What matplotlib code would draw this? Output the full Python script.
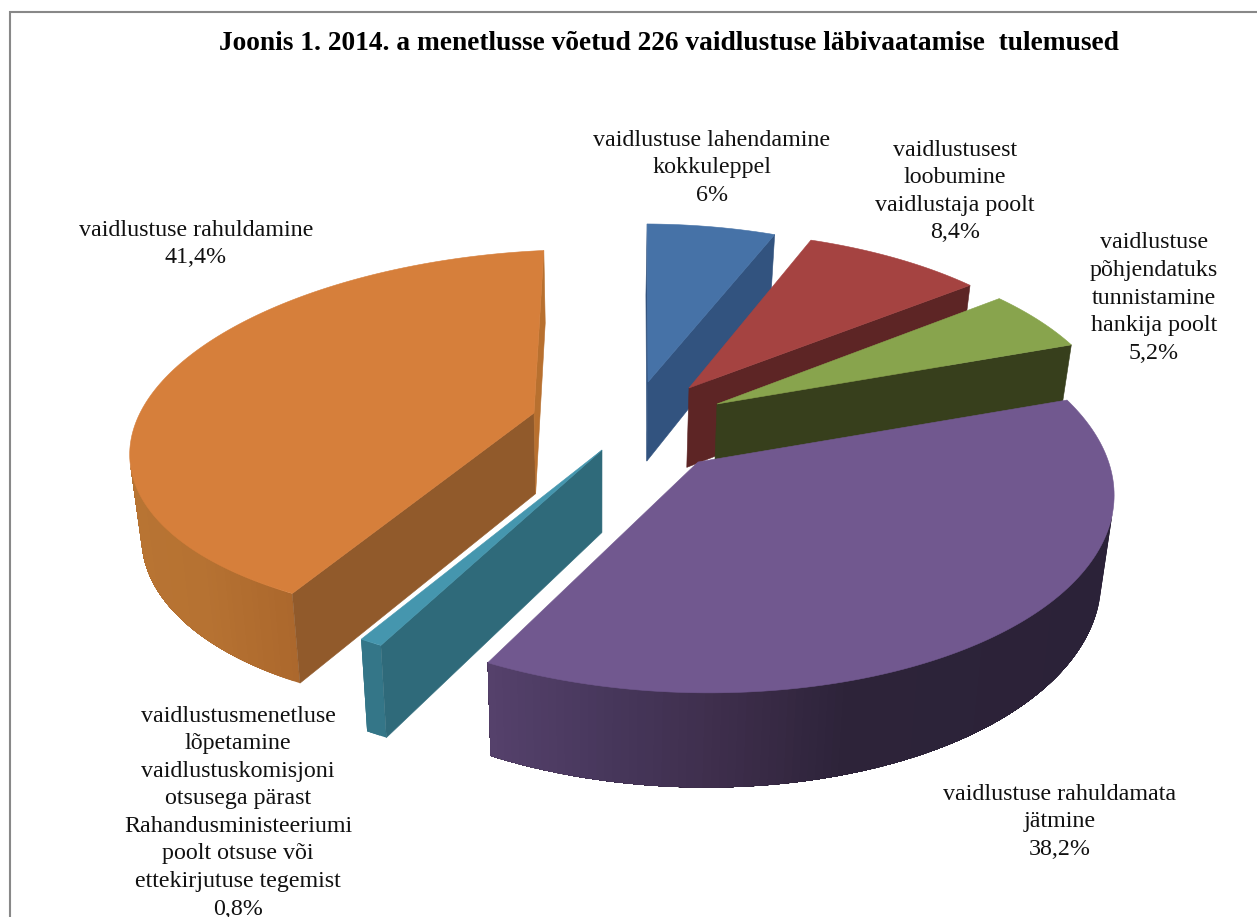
import numpy as np
import matplotlib
matplotlib.use("Agg")
import matplotlib.pyplot as plt
from matplotlib.colors import to_rgb

# ---- data (clockwise from twelve o'clock) ----
categories = [
    "vaidlustuse lahendamine\nkokkuleppel",
    "vaidlustusest\nloobumine\nvaidlustaja poolt",
    "vaidlustuse\npõhjendatuks\ntunnistamine\nhankija poolt",
    "vaidlustuse rahuldamata\njätmine",
    "vaidlustusmenetluse\nlõpetamine\nvaidlustuskomisjoni\notsusega pärast\nRahandusministeeriumi\npoolt otsuse või\nettekirjutuse tegemist",
    "vaidlustuse rahuldamine",
]
values = [6.0, 8.4, 5.2, 38.2, 0.8, 41.4]
value_labels = ["6%", "8,4%", "5,2%", "38,2%", "0,8%", "41,4%"]
title = "Joonis 1. 2014. a menetlusse võetud 226 vaidlustuse läbivaatamise  tulemused"

# ---- styles and layout ----
top_colors = ["#4672A7", "#A54341", "#88A44D", "#71588F", "#4596AE", "#D67F3B"]
side_colors = ["#32537F", "#5D2525", "#373F1C", "#2C2238", "#2F6A7A", "#915A2B"]
end_colors = ["#32537F", "#5D2525", "#373F1C", "#2C2238", "#2F6A7A", "#B8702F"]
wall_stops = [
    [(0, "#32537F"), (1300, "#32537F")],
    [(0, "#5D2525"), (1300, "#5D2525")],
    [(0, "#373F1C"), (1300, "#373F1C")],
    [(488, "#55416B"), (620, "#46365A"), (720, "#3E2E4C"), (850, "#2D2339"), (1120, "#2B2238")],
    [(0, "#347688"), (1300, "#347688")],
    [(130, "#B87433"), (200, "#B67232"), (298, "#AB672C")],
]
# apex x, apex y, a, b, c, d, k, m : projection of each exploded slice
proj = [
    (648, 382, 385, -1, 2, 177, 0.12, 0.0),
    (689, 388, 391, -9, -2, 176, 0.12, 0.0),
    (717, 404, 395, -12, -1, 182, 0.12, 0.0),
    (698, 462, 417, -12, 2, 202, 0.125, 0.014),
    (602, 450, 420, 0, 0, 198, 0.12, 0.0),
    (534, 413, 408, 11, -15, 182, 0.12, -0.02),
]
draw_order = [0, 1, 2, 5, 4, 3]
label_pos = [(712, 140), (955, 150), (1154, 243), (1060, 794), (238, 716), (196, 230)]
LINE_PX = 27.6
FS = 17.3
TITLE_FS = 19.7


def project(i, X, Y):
    ax_, ay_, a, b, c, d, k, m = proj[i]
    w = 1 + k * Y + m * X
    return ax_ + (a * X + b * Y) / w, ay_ + (c * X - d * Y) / w


def drop(x, y):
    return x + (600 - x) * 0.025, y + 60 + 0.05 * y


def shoelace(px, py):
    px, py = np.asarray(px), np.asarray(py)
    return float(np.sum(px * np.roll(py, -1) - np.roll(px, -1) * py))


def wall_color(stops, x):
    xs = [s[0] for s in stops]
    cols = np.array([to_rgb(s[1]) for s in stops])
    return tuple(np.interp(x, xs, cols[:, j]) for j in range(3))


fig = plt.figure(figsize=(12.57, 9.17), dpi=100, facecolor="white")
ax = fig.add_axes([0, 0, 1, 1])
ax.set_xlim(0, 1257)
ax.set_ylim(917, 0)
ax.axis("off")

ax.plot([10, 10, 1257], [917, 12, 12], color="#888888", lw=1.5, solid_joinstyle="miter")

edges = np.cumsum([0] + values) / sum(values) * 2 * np.pi

for order, i in enumerate(draw_order):
    z = 2 + order
    t0, t1 = edges[i], edges[i + 1]
    t = np.linspace(t0, t1, max(4, int(np.degrees(t1 - t0))))
    X, Y = np.sin(t), np.cos(t)
    rx, ry = project(i, X, Y)
    ox, oy = project(i, np.zeros(1), np.zeros(1))
    bx, by = drop(rx, ry)
    obx, oby = drop(ox, oy)

    # outer wall: only the strips facing the viewer, each running on to the
    # end of the visible stretch so no seams show between the shades
    seen = [n for n in range(len(t) - 1)
            if shoelace([rx[n], rx[n + 1], bx[n + 1], bx[n]],
                        [ry[n], ry[n + 1], by[n + 1], by[n]]) < 0]
    for n in seen:
        last = seen[-1] + 2
        qx = np.r_[rx[n:last], bx[n:last][::-1]]
        qy = np.r_[ry[n:last], by[n:last][::-1]]
        col = wall_color(wall_stops[i], 0.5 * (rx[n] + rx[n + 1]))
        ax.fill(qx, qy, facecolor=col, edgecolor="none", zorder=z)

    # straight cut faces: start face, end face
    for j, sign, col in ((0, -1, side_colors[i]), (-1, 1, end_colors[i])):
        qx = np.array([ox[0], rx[j], bx[j], obx[0]])
        qy = np.array([oy[0], ry[j], by[j], oby[0]])
        if shoelace(qx, qy) * sign > 0:
            ax.fill(qx, qy, facecolor=col, edgecolor=col, lw=0.4, zorder=z)

    # top surface
    ax.fill(np.r_[ox, rx], np.r_[oy, ry], facecolor=top_colors[i], edgecolor=top_colors[i],
            lw=0.4, zorder=z)

ax.text(669, 43, title, ha="center", va="center", family="Liberation Serif",
        fontweight="bold", fontsize=TITLE_FS, color="black", zorder=20)

for cat, val, (cx, cy) in zip(categories, value_labels, label_pos):
    for n, line in enumerate(cat.split("\n") + [val]):
        ax.text(cx, cy + n * LINE_PX, line, ha="center", va="center", family="Liberation Serif",
                fontsize=FS, color="#111111", zorder=20)

fig.savefig("out.png", dpi=100)
